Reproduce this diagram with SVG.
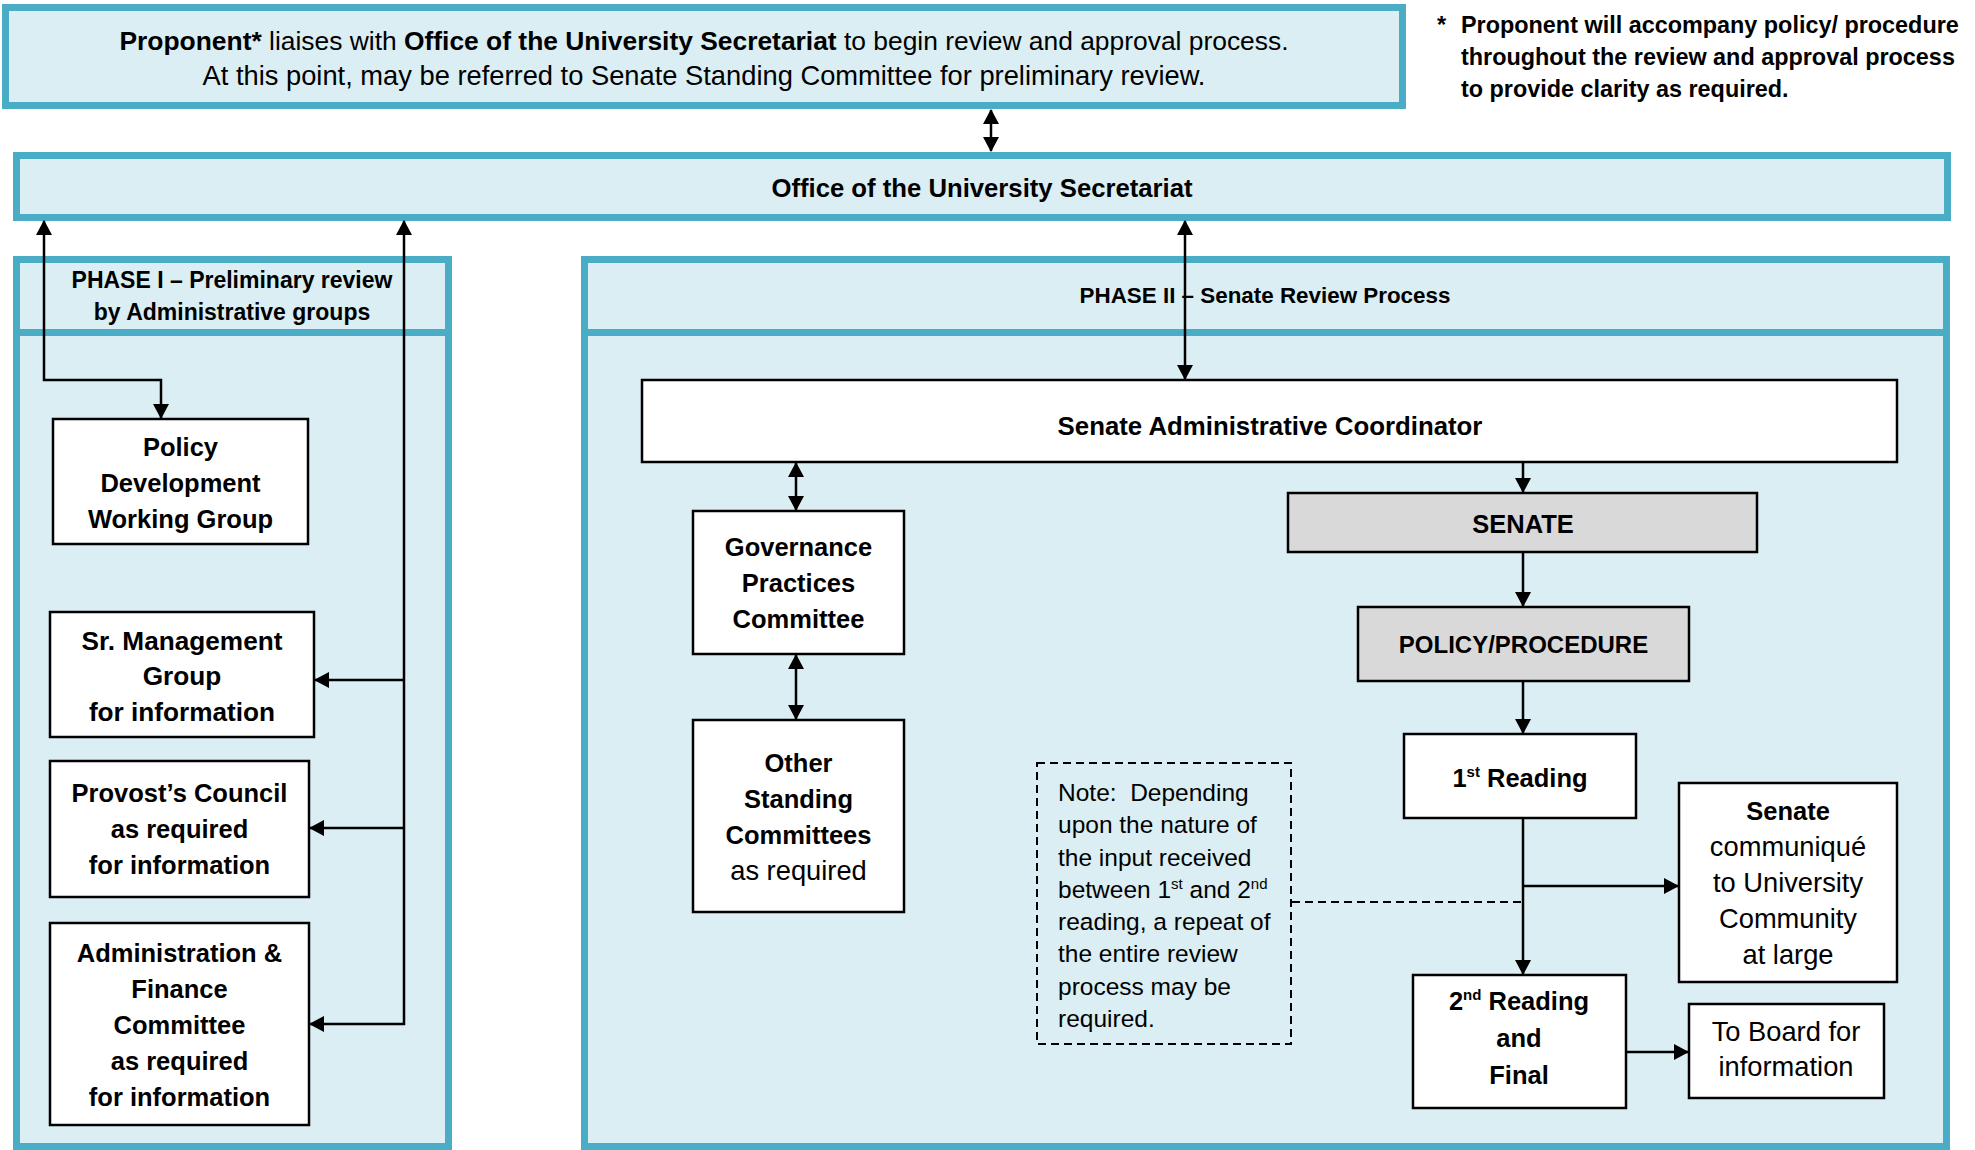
<svg xmlns="http://www.w3.org/2000/svg" width="1975" height="1150" viewBox="0 0 1975 1150">
<style>
text{font-family:"Liberation Sans",Arial,sans-serif;fill:#000}
.b{font-weight:bold}
.t{font-size:25.5px;text-anchor:middle}
.r{font-size:27.3px}
.n{font-size:24.5px;white-space:pre}
.panel{fill:#DAEEF3;stroke:#4BACC6;stroke-width:7}
.box{fill:#fff;stroke:#000;stroke-width:2.5}
.grey{fill:#D9D9D9;stroke:#000;stroke-width:2.5}
.c{fill:none;stroke:#000;stroke-width:2.5}
.d{fill:none;stroke:#000;stroke-width:2;stroke-dasharray:8 5}
</style>
<defs>
<marker id="ah" markerUnits="userSpaceOnUse" markerWidth="16" markerHeight="16" refX="14" refY="8" orient="auto-start-reverse">
<path d="M0,0 L15,8 L0,16 z" fill="#000"/>
</marker>
</defs>
<rect width="1975" height="1150" fill="#fff"/>

<g id="proponent">
<rect class="panel" x="5.5" y="7.5" width="1397" height="98"/>
<text class="t" x="704" y="50" style="font-size:26.4px"><tspan class="b">Proponent*</tspan> liaises with <tspan class="b">Office of the University Secretariat</tspan> to begin review and approval process.</text>
<text class="t" x="704" y="85" style="font-size:27.3px">At this point, may be referred to Senate Standing Committee for preliminary review.</text>
</g>

<g id="footnote">
<text class="b" x="1437" y="33" font-size="23.4">*</text>
<text class="b" x="1461" y="33" font-size="23.4">Proponent will accompany policy/ procedure</text>
<text class="b" x="1461" y="65" font-size="23.4">throughout the review and approval process</text>
<text class="b" x="1461" y="97" font-size="23.4">to provide clarity as required.</text>
</g>

<g id="office">
<rect class="panel" x="16.5" y="155.5" width="1931" height="62"/>
<text class="t b" x="982" y="197" style="font-size:25.7px">Office of the University Secretariat</text>
</g>

<g id="phase1">
<rect class="panel" x="16.5" y="259.5" width="432" height="887"/>
<line x1="16.5" y1="332.5" x2="448.5" y2="332.5" stroke="#4BACC6" stroke-width="7"/>
<text class="t b" x="232" y="288" style="font-size:23px">PHASE I – Preliminary review</text>
<text class="t b" x="232" y="320" style="font-size:23px">by Administrative groups</text>
</g>

<g id="phase2">
<rect class="panel" x="584.5" y="259.5" width="1362" height="887"/>
<line x1="584.5" y1="332.5" x2="1946.5" y2="332.5" stroke="#4BACC6" stroke-width="7"/>
<text class="t b" x="1265" y="303" style="font-size:22.4px">PHASE II – Senate Review Process</text>
</g>

<g id="policy-dev">
<rect class="box" x="53" y="419" width="255" height="125"/>
<text class="t b" x="180.5" y="456">Policy</text>
<text class="t b" x="180.5" y="492">Development</text>
<text class="t b" x="180.5" y="528">Working Group</text>
</g>

<g id="sr-mgmt">
<rect class="box" x="50" y="612" width="264" height="125"/>
<text class="t b" x="182" y="650" style="font-size:26.2px">Sr. Management</text>
<text class="t b" x="182" y="685" style="font-size:26.2px">Group</text>
<text class="t b" x="182" y="721" style="font-size:26.2px">for information</text>
</g>

<g id="provost">
<rect class="box" x="50" y="761" width="259" height="136"/>
<text class="t b" x="179.5" y="802">Provost’s Council</text>
<text class="t b" x="179.5" y="838">as required</text>
<text class="t b" x="179.5" y="874">for information</text>
</g>

<g id="admin-finance">
<rect class="box" x="50" y="923" width="259" height="202"/>
<text class="t b" x="179.5" y="962">Administration &amp;</text>
<text class="t b" x="179.5" y="998">Finance</text>
<text class="t b" x="179.5" y="1034">Committee</text>
<text class="t b" x="179.5" y="1070">as required</text>
<text class="t b" x="179.5" y="1106">for information</text>
</g>

<g id="coordinator">
<rect class="box" x="642" y="380" width="1255" height="82"/>
<text class="t b" x="1270" y="435" style="font-size:25.8px">Senate Administrative Coordinator</text>
</g>

<g id="governance">
<rect class="box" x="693" y="511" width="211" height="143"/>
<text class="t b" x="798.5" y="556">Governance</text>
<text class="t b" x="798.5" y="592">Practices</text>
<text class="t b" x="798.5" y="628">Committee</text>
</g>

<g id="other-standing">
<rect class="box" x="693" y="720" width="211" height="192"/>
<text class="t b" x="798.5" y="772">Other</text>
<text class="t b" x="798.5" y="808">Standing</text>
<text class="t b" x="798.5" y="844">Committees</text>
<text class="t r" x="798.5" y="880">as required</text>
</g>

<g id="senate">
<rect class="grey" x="1288" y="493" width="469" height="59"/>
<text class="t b" x="1523" y="533">SENATE</text>
</g>

<g id="policy-procedure">
<rect class="grey" x="1358" y="607" width="331" height="74"/>
<text class="t b" x="1523.5" y="653" style="font-size:24px">POLICY/PROCEDURE</text>
</g>

<g id="first-reading">
<rect class="box" x="1404" y="734" width="232" height="84"/>
<text class="t b" x="1520" y="787">1<tspan font-size="15" dy="-10">st</tspan><tspan dy="10"> Reading</tspan></text>
</g>

<g id="communique">
<rect class="box" x="1679" y="783" width="218" height="199"/>
<text class="t b" x="1788" y="820">Senate</text>
<text class="t r" x="1788" y="856">communiqué</text>
<text class="t r" x="1788" y="892">to University</text>
<text class="t r" x="1788" y="928">Community</text>
<text class="t r" x="1788" y="964">at large</text>
</g>

<g id="note">
<rect fill="#fff" class="d" x="1037" y="763" width="254" height="281"/>
<text class="n" x="1058" y="801">Note:  Depending</text>
<text class="n" x="1058" y="833">upon the nature of</text>
<text class="n" x="1058" y="866">the input received</text>
<text class="n" x="1058" y="898">between 1<tspan font-size="15" dy="-9">st</tspan><tspan dy="9"> and 2</tspan><tspan font-size="15" dy="-9">nd</tspan></text>
<text class="n" x="1058" y="930">reading, a repeat of</text>
<text class="n" x="1058" y="962">the entire review</text>
<text class="n" x="1058" y="995">process may be</text>
<text class="n" x="1058" y="1027">required.</text>
</g>

<g id="second-reading">
<rect class="box" x="1413" y="975" width="213" height="133"/>
<text class="t b" x="1519" y="1010">2<tspan font-size="15" dy="-10">nd</tspan><tspan dy="10"> Reading</tspan></text>
<text class="t b" x="1519" y="1047">and</text>
<text class="t b" x="1519" y="1084">Final</text>
</g>

<g id="board">
<rect class="box" x="1689" y="1004" width="195" height="94"/>
<text class="t r" x="1786" y="1041">To Board for</text>
<text class="t r" x="1786" y="1076">information</text>
</g>

<g id="connectors">
<line class="c" x1="991" y1="110" x2="991" y2="151" marker-start="url(#ah)" marker-end="url(#ah)"/>
<polyline class="c" points="44,221 44,380 161,380 161,418" marker-start="url(#ah)" marker-end="url(#ah)"/>
<polyline class="c" points="404,221 404,1024 310,1024" marker-start="url(#ah)" marker-end="url(#ah)"/>
<line class="c" x1="404" y1="680" x2="315" y2="680" marker-end="url(#ah)"/>
<line class="c" x1="404" y1="828" x2="310" y2="828" marker-end="url(#ah)"/>
<line class="c" x1="1185" y1="221" x2="1185" y2="379" marker-start="url(#ah)" marker-end="url(#ah)"/>
<line class="c" x1="796" y1="463" x2="796" y2="510" marker-start="url(#ah)" marker-end="url(#ah)"/>
<line class="c" x1="796" y1="655" x2="796" y2="719" marker-start="url(#ah)" marker-end="url(#ah)"/>
<line class="c" x1="1523" y1="462" x2="1523" y2="492" marker-end="url(#ah)"/>
<line class="c" x1="1523" y1="552" x2="1523" y2="606" marker-end="url(#ah)"/>
<line class="c" x1="1523" y1="681" x2="1523" y2="733" marker-end="url(#ah)"/>
<line class="c" x1="1523" y1="818" x2="1523" y2="974" marker-end="url(#ah)"/>
<line class="c" x1="1523" y1="886" x2="1678" y2="886" marker-end="url(#ah)"/>
<line class="c" x1="1626" y1="1052" x2="1688" y2="1052" marker-end="url(#ah)"/>
<line class="d" x1="1292" y1="902" x2="1523" y2="902"/>
</g>
</svg>
